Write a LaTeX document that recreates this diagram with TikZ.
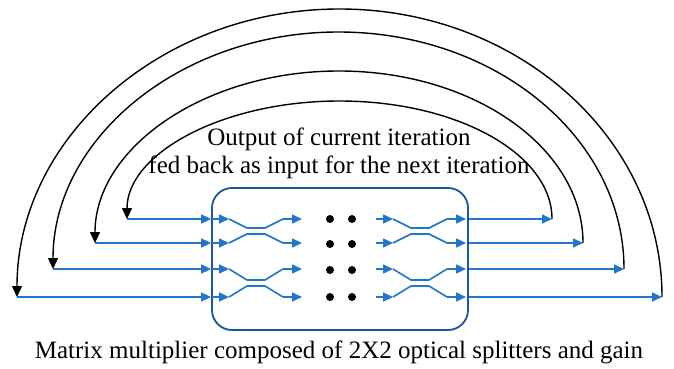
\documentclass[tikz,border=0pt]{standalone}
\usepackage{fontspec}
\setmainfont{Liberation Serif}
\usetikzlibrary{arrows.meta}
\definecolor{wgblue}{RGB}{32,118,206}
\definecolor{boxblue}{RGB}{22,88,158}
\tikzset{
  wg/.style={wgblue, line width=1.6pt},
  wgarrow/.style={wg, -{Triangle[length=10pt,width=9pt]}},
  loop/.style={black, line width=1.4pt, -{Triangle[length=11pt,width=10pt]}},
  label/.style={anchor=base, font=\fontsize{25}{30}\selectfont, inner sep=0pt},
}
\begin{document}
\begin{tikzpicture}[x=1pt, y=-1pt]
        \useasboundingbox (0,0) rectangle (674,369);
        % the matrix multiplier box
        \node (mm) [draw=boxblue, line width=1.8pt, rounded corners=20pt,
          minimum width=256pt, minimum height=142pt] at (340,259) {};
        % rows: left start, right end
        \coordinate (in1) at (127,219);
        \coordinate (in2) at (95,243);
        \coordinate (in3) at (53,269);
        \coordinate (in4) at (17,297);
        \coordinate (out1) at (552,219);
        \coordinate (out2) at (583,243);
        \coordinate (out3) at (624,269);
        \coordinate (out4) at (662,297);
        \foreach \i in {1,...,4} {
          \draw [wgarrow] (in\i) -- (in\i -| mm.west);
          \draw [wgarrow] (out\i -| mm.east) -- (out\i);
        }
        % 2x2 splitters
        \foreach \ya/\yb in {219/243, 269/297} {
          \pgfmathsetmacro{\mid}{(\ya+\yb)/2}
          \foreach \xs in {212, 376} {
            \draw [wgarrow] (\xs,\ya) -- (\xs+17,\ya);
            \draw [wgarrow] (\xs,\yb) -- (\xs+17,\yb);
            \draw [wg] (\xs+17,\ya) -- (\xs+35,\mid-3) -- (\xs+53,\mid-3) -- (\xs+71,\ya);
            \draw [wg] (\xs+17,\yb) -- (\xs+35,\mid+3) -- (\xs+53,\mid+3) -- (\xs+71,\yb);
            \draw [wgarrow] (\xs+71,\ya) -- (\xs+90,\ya);
            \draw [wgarrow] (\xs+71,\yb) -- (\xs+90,\yb);
          }
        }
        % dots
        \foreach \y in {219,244,270,297} {
          \fill (330,\y) circle [radius = 4];
          \fill (352,\y) circle [radius = 4];
        }
        % feedback loops
        \draw [loop] (out1) arc [start angle=0, end angle=-180, x radius=212.5, y radius=118];
        \draw [loop] (out2) arc [start angle=0, end angle=-180, x radius=244, y radius=172];
        \draw [loop] (out3) arc [start angle=0, end angle=-180, x radius=285.5, y radius=237];
        \draw [loop] (out4) arc [start angle=0, end angle=-180, x radius=322.5, y radius=288];
        % labels
        \node (fb1) [label] at (339,145) {Output of current iteration};
        \node (fb2) [label] at (339,173) {fed back as input for the next iteration};
        \node (cap) [label] at (339,358)
          {Matrix multiplier composed of 2X2 optical splitters and gain};
\end{tikzpicture}
\end{document}
